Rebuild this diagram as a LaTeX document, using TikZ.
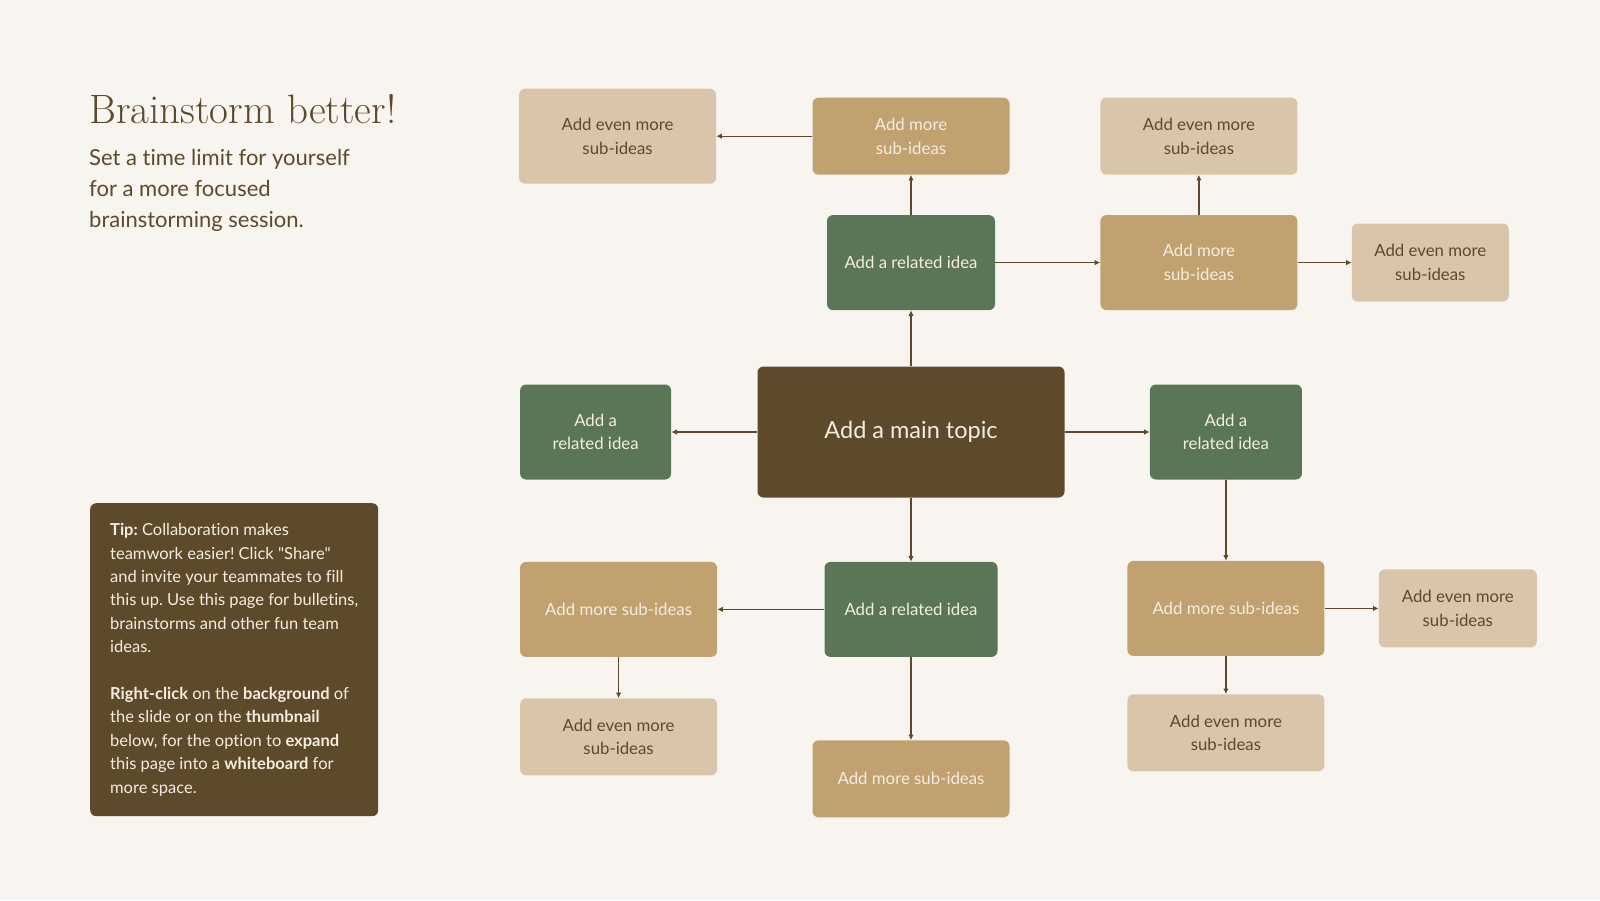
\documentclass[tikz,border=0pt]{standalone}
\usepackage{fontspec}
\newfontfamily\uifont[Ligatures=NoCommon]{Lato}
\usepackage{xcolor}
\usepackage{tikz}
\usetikzlibrary{arrows.meta,positioning}
\definecolor{colBg}{HTML}{F8F5F0}
\definecolor{colTopic}{HTML}{5D4A2A}
\definecolor{colRel}{HTML}{5A7656}
\definecolor{colMore}{HTML}{C1A170}
\definecolor{colEven}{HTML}{D9C6AA}
\definecolor{colCream}{HTML}{F4EDE1}
\frenchspacing

\begin{document}
\begin{tikzpicture}[x=1pt, y=-1pt,
  card/.style={rounded corners=6pt, inner sep=0pt, align=center,
               font=\uifont\fontsize{16.8}{23.5}\selectfont},
  topic/.style={card, fill=colTopic, text=colCream, minimum width=307pt, minimum height=131pt,
                font=\uifont\fontsize{23.5}{28}\selectfont},
  rel/.style={card, fill=colRel, text=colCream, minimum height=95pt},
  more/.style={card, fill=colMore, text=colCream, minimum width=197pt},
  even/.style={card, fill=colEven, text=colTopic, minimum width=197pt},
  tipbox/.style={rounded corners=6pt, fill=colTopic, text=colCream, align=left,
                 minimum width=288pt, minimum height=313pt, inner sep=0pt,
                 font=\uifont\fontsize{16.5}{23.4}\selectfont},
  arr/.style={-{Latex[length=5.5pt,width=5.5pt]}, line width=1.4pt, colTopic}
]
  % page
  \fill[colBg] (0,0) rectangle (1600,900);
  \useasboundingbox (0,0) rectangle (1600,900);

  % heading
  \node[anchor=base west, inner sep=0pt, text=colTopic, font=\fontsize{41}{41}\selectfont]
    (title) at (89,123) {Brainstorm better!};
  \node[below=26pt of title.base west, anchor=north west, inner sep=0pt, align=left,
        text=colTopic, font=\uifont\fontsize{22}{31}\selectfont] (sub)
    {Set a time limit for yourself\\for a more focused\\brainstorming session.};

  % tip
  \node[tipbox, anchor=north west] (tip) at (90,503)
    {\textbf{Tip:} Collaboration makes\\
     teamwork easier! Click "Share"\\
     and invite your teammates to fill\\
     this up. Use this page for bulletins,\\
     brainstorms and other fun team\\
     ideas.\\[23.4pt]
     \textbf{Right-click} on the \textbf{background} of\\
     the slide or on the \textbf{thumbnail}\\
     below, for the option to \textbf{expand}\\
     this page into a \textbf{whiteboard} for\\
     more space.};

  % map
  \node[topic] (main) at (911,432) {Add a main topic};
  \node[rel, minimum width=168pt, above=56pt of main] (relN) {Add a related idea};
  \node[more, minimum height=77pt, above=40pt of relN] (moreN) {Add more\\sub-ideas};
  \node[even, minimum height=95pt, left=96pt of moreN] (evenNW) {Add even more\\sub-ideas};
  \node[more, minimum height=95pt, right=105pt of relN] (moreNE) {Add more\\sub-ideas};
  \node[even, minimum height=77pt, above=40pt of moreNE] (evenN) {Add even more\\sub-ideas};
  \node[even, minimum width=157pt, minimum height=78pt, right=54pt of moreNE] (evenNE)
    {Add even more\\sub-ideas};
  \node[rel, minimum width=151pt, left=86pt of main] (relW) {Add a\\related idea};
  \node[rel, minimum width=152pt, right=85pt of main] (relE) {Add a\\related idea};
  \node[rel, minimum width=173pt, below=64pt of main] (relS) {Add a related idea};
  \node[more, minimum height=95pt, left=107pt of relS] (moreSW) {Add more sub-ideas};
  \node[even, minimum height=77pt, below=41pt of moreSW] (evenSW) {Add even more\\sub-ideas};
  \node[more, minimum height=77pt, below=83pt of relS] (moreS) {Add more sub-ideas};
  \node[more, minimum height=95pt, below=81pt of relE] (moreSE) {Add more sub-ideas};
  \node[even, minimum width=158pt, minimum height=78pt, right=54pt of moreSE] (evenE)
    {Add even more\\sub-ideas};
  \node[even, minimum height=77pt, below=38pt of moreSE] (evenSE) {Add even more\\sub-ideas};

  \draw[arr] (main)   -- (relN);
  \draw[arr] (relN)   -- (moreN);
  \draw[arr] (moreN)  -- (evenNW);
  \draw[arr] (relN)   -- (moreNE);
  \draw[arr] (moreNE) -- (evenN);
  \draw[arr] (moreNE) -- (evenNE);
  \draw[arr] (main)   -- (relW);
  \draw[arr] (main)   -- (relE);
  \draw[arr] (main)   -- (relS);
  \draw[arr] (relS)   -- (moreSW);
  \draw[arr] (moreSW) -- (evenSW);
  \draw[arr] (relS)   -- (moreS);
  \draw[arr] (relE)   -- (moreSE);
  \draw[arr] (moreSE) -- (evenE);
  \draw[arr] (moreSE) -- (evenSE);
\end{tikzpicture}
\end{document}
